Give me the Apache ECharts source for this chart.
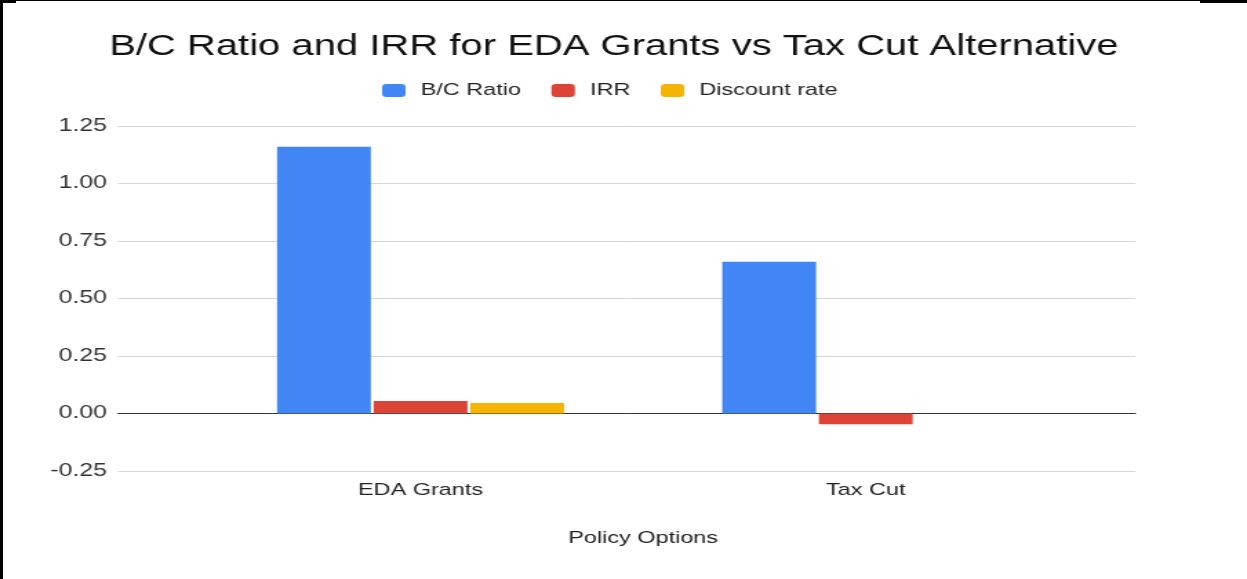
<!DOCTYPE html>
<html>
<head>
<meta charset="utf-8">
<script src="https://cdn.jsdelivr.net/npm/echarts@6/dist/echarts.min.js"></script>
<style>
  html, body { margin: 0; padding: 0; background: #fff; }
  body { width: 1247px; height: 579px; position: relative; overflow: hidden; }
  /* the source picture is stretched sideways, so the chart is too */
  #wrap { position: absolute; left: 0; top: 0; width: 904px; height: 579px;
          transform: scaleX(1.3794); transform-origin: 0 0; }
  #main { width: 904px; height: 579px; }
  .edge { position: absolute; background: #000; }
</style>
</head>
<body>
<div id="wrap"><div id="main"></div></div>
<div class="edge" style="left:0;top:0;width:3px;height:579px"></div>
<div class="edge" style="left:0;top:0;width:1200px;height:1px"></div>
<div class="edge" style="left:0;top:0;width:16px;height:3px"></div>
<div class="edge" style="left:1200px;top:0;width:47px;height:3px"></div>
<script>
// 数据
var categories = ['EDA Grants', 'Tax Cut'];
var bcRatio = [1.16, 0.66];
var irr = [0.054, -0.047];
var discountRate = [0.046, 0];
var yTicks = [-0.25, 0, 0.25, 0.5, 0.75, 1, 1.25];

var font = 'Liberation Sans, Arial, sans-serif';

var myChart = echarts.init(document.getElementById('main'));

var option = {
    animation: false,
    color: ['#4285F4', '#DB4437', '#F4B400'],
    title: {
        text: 'B/C Ratio and IRR for EDA Grants vs Tax Cut Alternative',
        left: 440,
        textAlign: 'center',
        top: 27,
        textStyle: { fontFamily: font, fontSize: 29, fontWeight: 'normal', color: '#111' }
    },
    legend: {
        data: ['B/C Ratio', 'IRR', 'Discount rate'],
        left: 272,
        top: 77,
        icon: 'roundRect',
        itemWidth: 17,
        itemHeight: 13,
        itemGap: 22,
        textStyle: { fontFamily: font, fontSize: 17, color: '#222', padding: [0, 0, 0, 6] }
    },
    grid: [
        { left: 85.5, right: 81, top: 126, bottom: 108 },
        { left: 143.5, right: 115, top: 126, bottom: 108 }
    ],
    xAxis: [{
        // 只用来画零线
        type: 'category',
        gridIndex: 0,
        data: [''],
        axisLine: { show: true, onZero: true, lineStyle: { color: '#333', width: 1 } },
        axisTick: { show: false },
        axisLabel: { show: false }
    }, {
        type: 'category',
        gridIndex: 1,
        data: categories,
        axisLine: { show: false },
        axisTick: { show: false },
        axisLabel: { margin: 11, fontFamily: font, fontSize: 17, color: '#222' },
        name: 'Policy Options',
        nameLocation: 'middle',
        nameGap: 59,
        nameTextStyle: { fontFamily: font, fontSize: 17, color: '#222' }
    }],
    yAxis: [{
        type: 'value',
        gridIndex: 0,
        min: yTicks[0],
        max: yTicks[yTicks.length - 1],
        interval: 0.25,
        axisLine: { show: false },
        axisTick: { show: false },
        axisLabel: {
            margin: 8,
            fontFamily: font,
            fontSize: 18,
            color: '#333',
            formatter: function (v) { return v.toFixed(2); }
        },
        splitLine: { lineStyle: { color: '#d6d6d6', width: 1 } }
    }, {
        type: 'value',
        gridIndex: 1,
        min: yTicks[0],
        max: yTicks[yTicks.length - 1],
        interval: 0.25,
        show: false
    }],
    series: [{
        name: 'B/C Ratio',
        type: 'bar',
        xAxisIndex: 1,
        yAxisIndex: 1,
        barWidth: 68,
        barGap: '3%',
        data: bcRatio
    }, {
        name: 'IRR',
        type: 'bar',
        xAxisIndex: 1,
        yAxisIndex: 1,
        barWidth: 68,
        barGap: '3%',
        data: irr
    }, {
        name: 'Discount rate',
        type: 'bar',
        xAxisIndex: 1,
        yAxisIndex: 1,
        barWidth: 68,
        barGap: '3%',
        data: discountRate
    }]
};

myChart.setOption(option);
</script>
</body>
</html>
